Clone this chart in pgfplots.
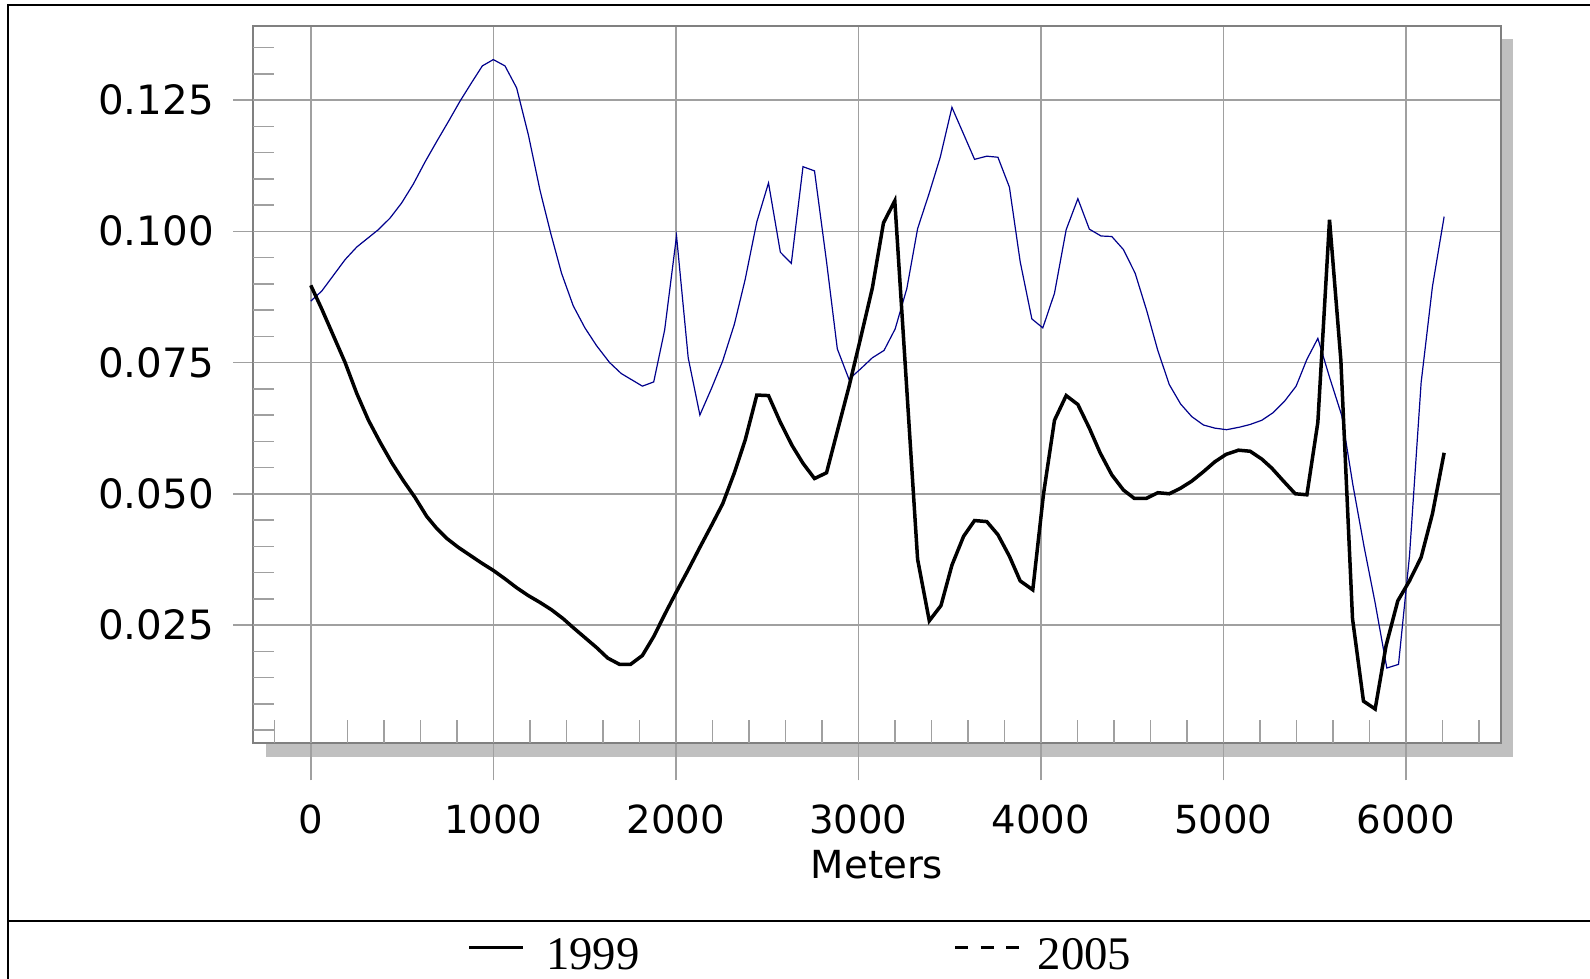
\documentclass[border=0pt]{standalone}
\usepackage{fontspec}
\setmainfont{DejaVu Sans}
\newfontfamily\legendfont{Liberation Serif}
\usepackage{pgfplots}
\usepackage{pgfplotstable}
\pgfplotsset{compat=1.18}

\definecolor{gridgray}{RGB}{160,160,160}
\definecolor{axisgray}{RGB}{128,128,128}
\definecolor{shadowgray}{RGB}{192,192,192}
\definecolor{navyline}{RGB}{0,0,140}

% 1999 survey
\pgfplotstableread{
m v
0 0.0897
60 0.0852
124 0.0801
188 0.0750
252 0.0691
316 0.0640
380 0.0598
444 0.0559
507 0.0525
571 0.0493
635 0.0457
690 0.0434
745 0.0415
808 0.0398
872 0.0383
936 0.0368
1000 0.0354
1064 0.0338
1128 0.0321
1192 0.0306
1256 0.0293
1319 0.0279
1383 0.0262
1438 0.0245
1502 0.0226
1566 0.0207
1627 0.0187
1692 0.0175
1752 0.0175
1817 0.0192
1879 0.0228
1939 0.0270
2000 0.0311
2068 0.0355
2132 0.0398
2196 0.0440
2257 0.0481
2321 0.0540
2380 0.0602
2444 0.0688
2508 0.0687
2573 0.0636
2637 0.0592
2697 0.0558
2760 0.0529
2826 0.0540
2888 0.0623
2949 0.0704
3013 0.0797
3077 0.0892
3138 0.1016
3200 0.1058
3325 0.0375
3389 0.0258
3453 0.0287
3513 0.0364
3577 0.0419
3637 0.0449
3704 0.0447
3765 0.0422
3828 0.0381
3887 0.0334
3956 0.0317
4015 0.0500
4075 0.0640
4139 0.0687
4203 0.0670
4266 0.0625
4325 0.0578
4389 0.0536
4453 0.0507
4513 0.0491
4577 0.0491
4641 0.0502
4704 0.0500
4763 0.0510
4827 0.0524
4891 0.0542
4954 0.0561
5015 0.0575
5083 0.0583
5147 0.0581
5211 0.0566
5265 0.0549
5330 0.0524
5394 0.0500
5458 0.0498
5518 0.0636
5582 0.1022
5644 0.0755
5708 0.0262
5768 0.0105
5832 0.0090
5892 0.0211
5956 0.0296
6020 0.0334
6084 0.0379
6146 0.0462
6210 0.0578
}\surveyA

% 2005 survey
\pgfplotstableread{
m v
0 0.0867
60 0.0886
124 0.0916
188 0.0946
252 0.0970
370 0.1003
434 0.1025
498 0.1054
562 0.1090
626 0.1132
690 0.1171
754 0.1209
818 0.1248
881 0.1283
940 0.1315
1000 0.1327
1064 0.1315
1128 0.1273
1192 0.1184
1256 0.1078
1314 0.0997
1374 0.0920
1438 0.0858
1502 0.0816
1566 0.0782
1637 0.0750
1701 0.0729
1817 0.0705
1879 0.0713
1939 0.0812
2004 0.0991
2068 0.0759
2132 0.0650
2196 0.0701
2257 0.0753
2321 0.0823
2380 0.0908
2444 0.1018
2508 0.1092
2573 0.0960
2633 0.0939
2697 0.1123
2760 0.1115
2826 0.0942
2885 0.0776
2949 0.0718
3013 0.0738
3077 0.0759
3141 0.0773
3202 0.0814
3266 0.0891
3325 0.1005
3389 0.1073
3449 0.1141
3513 0.1236
3577 0.1185
3637 0.1137
3704 0.1143
3765 0.1141
3828 0.1084
3887 0.0942
3951 0.0833
4011 0.0816
4075 0.0882
4139 0.1003
4203 0.1062
4266 0.1004
4330 0.0991
4389 0.0990
4453 0.0965
4517 0.0920
4581 0.0848
4641 0.0773
4704 0.0708
4766 0.0671
4827 0.0647
4891 0.0631
4954 0.0625
5018 0.0622
5091 0.0627
5147 0.0632
5211 0.0640
5271 0.0654
5335 0.0676
5399 0.0705
5458 0.0756
5518 0.0796
5582 0.0722
5649 0.0649
5710 0.0517
5772 0.0398
5832 0.0292
5896 0.0168
5960 0.0175
6020 0.0381
6084 0.0712
6146 0.0895
6210 0.1028
}\surveyB

\begin{document}
\begin{tikzpicture}
\useasboundingbox (0,0) rectangle (159mm,97.9mm);
% outer frame and legend separator
\draw[line width=0.2mm] (0.83mm,-1mm) -- (0.83mm,97.4mm) -- (161mm,97.4mm);
\draw[line width=0.2mm] (0.83mm,5.83mm) -- (161mm,5.83mm);
% drop shadow
\fill[shadowgray] (26.6mm,22.2mm) rectangle (151.3mm,94.0mm);
\begin{axis}[
  at={(25.33mm,23.57mm)}, anchor=south west,
  scale only axis, width=124.74mm, height=71.73mm,
  xmin=-315, xmax=6520, ymin=0.00247, ymax=0.1391,
  axis background/.style={fill=white},
  axis line style={axisgray, line width=0.2mm},
  xtick={0,1000,...,6000},
  ytick={0.025,0.05,0.075,0.1,0.125},
  xtick pos=bottom, ytick pos=left,
  tick align=outside,
  major tick length=2mm,
  xtick style={/pgfplots/major tick length=3.7mm},
  grid=major,
  major grid style={gridgray, line width=0.15mm},
  tick style={gridgray, line width=0.15mm},
  extra x ticks={-200,0,...,6400}, extra x tick labels={},
  extra x tick style={grid=none, tick align=inside, xtick style={/pgfplots/major tick length=2.3mm}},
  extra y ticks={0.005,0.01,0.015,0.02,0.025,0.03,0.035,0.04,0.045,0.05,0.055,0.06,0.065,0.07,0.075,0.08,0.085,0.09,0.095,0.1,0.105,0.11,0.115,0.12,0.125,0.13,0.135},
  extra y tick labels={},
  extra y tick style={grid=none, tick align=inside, /pgfplots/major tick length=2.03mm},
  scaled y ticks=false,
  /pgf/number format/assume math mode=true,
  yticklabel style={/pgf/number format/fixed, /pgf/number format/fixed zerofill, /pgf/number format/precision=3,
    font=\fontsize{11.5}{13}\selectfont, black, xshift=-0.7mm},
  xticklabel style={/pgf/number format/set thousands separator={},
    font=\fontsize{11}{13}\selectfont, black, yshift=-2.9mm},
  xlabel={Meters},
  xlabel style={font=\fontsize{11}{13}\selectfont, at={(axis description cs:0.5,-0.1878)}, anchor=base},
  legend columns=2,
  legend style={draw=none, fill=none, at={(axis description cs:0.163,-0.2975)}, anchor=west,
    font=\legendfont\fontsize{13.3}{15}\selectfont,
    /tikz/every even column/.append style={column sep=30.7mm}},
]
\addlegendimage{legend image code/.code={\draw[black, line width=0.3mm] (0mm,0.9mm) -- (5.4mm,0.9mm); \path (6.9mm,0.9mm);}}
\addlegendimage{legend image code/.code={\draw[black, line width=0.28mm, dash pattern=on 1.3mm off 1.25mm] (0mm,0.9mm) -- (6.4mm,0.9mm); \path (7.5mm,0.9mm);}}
\addplot[navyline, line width=0.12mm, forget plot] table[x=m, y=v] {\surveyB};
\addplot[black, line width=0.35mm, forget plot] table[x=m, y=v] {\surveyA};
\legend{1999, 2005}
\end{axis}
\end{tikzpicture}
\end{document}
